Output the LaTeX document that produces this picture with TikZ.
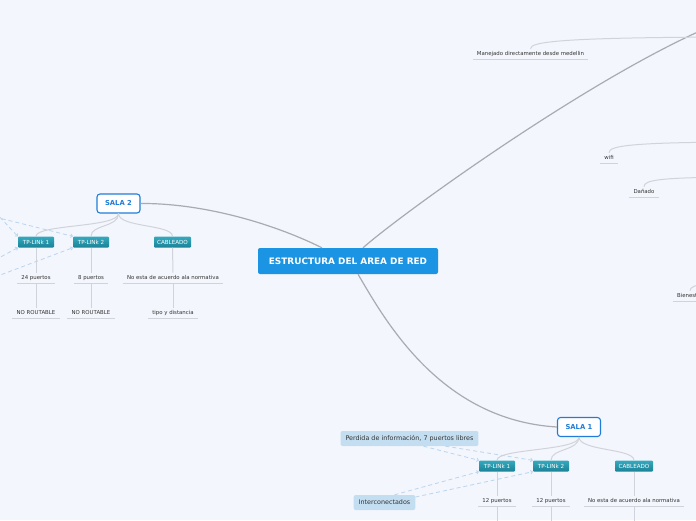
\documentclass[tikz,border=0pt]{standalone}
\usepackage{fontspec}
\setmainfont{DejaVu Sans}
\usetikzlibrary{arrows.meta}
\definecolor{mapbg}{HTML}{F3F6FD}
\definecolor{rootblue}{HTML}{1A94E3}
\definecolor{salablue}{HTML}{1F7DD9}
\definecolor{tealtop}{HTML}{35A9BE}
\definecolor{tealbot}{HTML}{1B8296}
\definecolor{notefill}{HTML}{C4DEF1}
\definecolor{maingray}{HTML}{A9ABB1}
\definecolor{twiggray}{HTML}{D0D3D9}
\definecolor{relblue}{HTML}{BAD5EE}
\definecolor{leaftext}{HTML}{333333}

\begin{document}
\begin{tikzpicture}[x=1pt, y=-1pt,
    root/.style={fill=rootblue, rounded corners=2pt, inner sep=0pt,
                 minimum width=180pt, minimum height=26pt, text=white,
                 font=\fontsize{8.9}{10}\selectfont\bfseries},
    sala/.style={draw=salablue, line width=1.1pt, fill=white, rounded corners=3pt,
                 inner sep=0pt, minimum width=43pt, minimum height=19pt,
                 text=salablue, font=\fontsize{6.8}{8}\selectfont\bfseries},
    tplink/.style={top color=tealtop, bottom color=tealbot, rounded corners=1pt,
                   inner sep=0pt, minimum width=36pt, minimum height=11pt,
                   text=white, font=\fontsize{5.6}{6}\selectfont},
    twig/.style={draw=twiggray, line width=1pt},
    leaf/.style={text=leaftext, inner xsep=4pt, inner ysep=2.5pt,
                 text height=4pt, text depth=1.2pt, font=\fontsize{5.4}{6}\selectfont,
                 append after command={(\tikzlastnode.south west) edge[twig] (\tikzlastnode.south east)}},
    note/.style={fill=notefill, rounded corners=2pt, inner xsep=5pt, inner ysep=0pt,
                 minimum height=15pt, text=leaftext, font=\fontsize{6.4}{7}\selectfont},
    main/.style={draw=maingray, line width=1.2pt},
    rel/.style={draw=relblue, dash pattern=on 4pt off 3pt, line width=0.8pt,
                -{To[length=2.5pt,width=4pt]}}
  ]
    \useasboundingbox (0,0) rectangle (696,520);
    \clip (0,0) rectangle (696,520);
    \fill[mapbg] (0,0) rectangle (696,520);

    \node[root] (root) at (348,261) {ESTRUCTURA DEL AREA DE RED};

    % SALA 2
    \node[sala] (s2) at (118.5,203.5) {SALA 2};
    \node[tplink] (s2a) at (36,242) {TP-LINk 1};
    \node[tplink] (s2b) at (91,242) {TP-LINk 2};
    \node[tplink, minimum width=37pt] (s2c) at (172.5,242) {CABLEADO};
    \node[leaf] (s2a1) at (36,278) {24 puertos};
    \node[leaf] (s2b1) at (91,278) {8 puertos};
    \node[leaf] (s2c1) at (173,278) {No esta de acuerdo ala normativa};
    \node[leaf] (s2a2) at (36,313) {NO ROUTABLE};
    \node[leaf] (s2b2) at (91,313) {NO ROUTABLE};
    \node[leaf] (s2c2) at (173,313) {tipo y distancia};

    % SALA 1
    \node[sala] (s1) at (579,427) {SALA 1};
    \node[tplink] (s1a) at (497,466) {TP-LINk 1};
    \node[tplink] (s1b) at (551,466) {TP-LINk 2};
    \node[tplink, minimum width=38pt] (s1c) at (634,466) {CABLEADO};
    \node[leaf] (s1a1) at (497,501) {12 puertos};
    \node[leaf] (s1b1) at (551,501) {12 puertos};
    \node[leaf] (s1c1) at (634,501) {No esta de acuerdo ala normativa};
    \node[note] (perd) at (409.5,438.5) {Perdida de información, 7 puertos libres};
    \node[note] (inter) at (384.5,502.5) {Interconectados};

    % right branch (continues off the page)
    \node[leaf] (mane) at (530.5,54) {Manejado directamente desde medellin};
    \node[leaf] (wifi) at (609,158) {wifi};
    \node[leaf] (dana) at (644,192) {Dañado};
    \node[leaf] (bien) at (690,296) {Bienestar};
    \coordinate (hubR) at (700,31);
    \coordinate (hubA) at (760,37);
    \coordinate (hubB) at (760,142);
    \coordinate (hubC) at (760,177);
    \coordinate (hubD) at (760,282);
    \coordinate (w1) at (-5,212);
    \coordinate (w2) at (-5,217);
    \coordinate (w3) at (-5,260);
    \coordinate (w4) at (-5,277);

    \draw[main] ([xshift=-26pt]root.north) .. controls (270,222) and (200,203) .. (s2.east);
    \draw[main] ([xshift=15pt]root.north) .. controls (400,215) and (580,85) .. (hubR);
    \draw[main] ([xshift=10pt]root.south) .. controls (385,320) and (440,420) .. (s1.west);

    \foreach \c in {s2a,s2b,s2c}
      \draw[twig] (s2.south) .. controls +(0,14) and +(0,-12) .. (\c.north);
    \foreach \c in {s1a,s1b,s1c}
      \draw[twig] (s1.south) .. controls +(0,14) and +(0,-12) .. (\c.north);
    \foreach \a/\b in {s2a/s2a1, s2b/s2b1, s2c/s2c1, s2a1/s2a2, s2b1/s2b2, s2c1/s2c2,
                       s1a/s1a1, s1b/s1b1, s1c/s1c1}
      \draw[twig] (\a.south) -- (\b.north);
    \foreach \a in {s1a1,s1b1,s1c1}
      \draw[twig] (\a.south) -- ++(0,20);

    \draw[twig] (mane.north) .. controls +(0,-7) and +(-200,0) .. (hubA);
    \draw[twig] (wifi.north) .. controls +(0,-7) and +(-130,0) .. (hubB);
    \draw[twig] (dana.north) .. controls +(0,-7) and +(-100,0) .. (hubC);
    \draw[twig] (bien.north) .. controls +(0,-7) and +(-50,0) .. (hubD);

    % relations
    \draw[rel] (w1) -- (s2a.north west);
    \draw[rel] (w2) -- (s2b.north west);
    \draw[rel] (w3) -- (s2a.south west);
    \draw[rel] (w4) -- (s2b.south west);
    \draw[rel] ([xshift=14pt]perd.south) -- (s1a.north west);
    \draw[rel] ([xshift=36pt]perd.south) -- (s1b.north west);
    \draw[rel] ([xshift=10pt]inter.north) -- (s1a.south west);
    \draw[rel] ([yshift=5.5pt]inter.east) -- (s1b.south west);
\end{tikzpicture}
\end{document}
